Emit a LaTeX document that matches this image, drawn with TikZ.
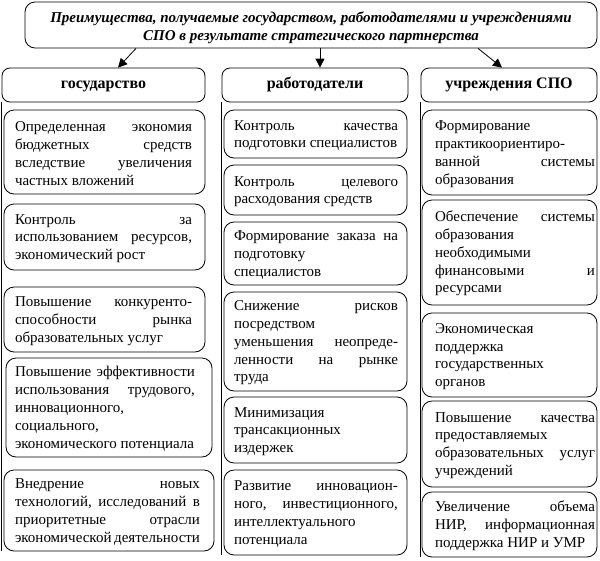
\documentclass[tikz,border=0pt]{standalone}
\usepackage{fontspec}
\setmainfont{Liberation Serif}
\usetikzlibrary{arrows.meta}
\newcommand{\bodyfont}{\fontsize{15}{17.8}\selectfont}
% left gap, text width, right gap, lines
\newcommand{\bt}[4]{\hspace*{#1pt}\begin{minipage}{#2pt}\bodyfont\hyphenpenalty=10000\parindent=0pt\rule{0pt}{13pt}#4\end{minipage}\hspace*{#3pt}}
\begin{document}
\begin{tikzpicture}[x=1pt,y=-1pt,line width=0.8pt,
  box/.style={draw, rounded corners=10pt, inner sep=0pt},
  head/.style={draw, rounded corners=8pt, inner sep=0pt, align=center, text height=10pt, text depth=3pt, font=\fontsize{16}{18}\selectfont\bfseries},
  arr/.style={-{Triangle[length=9pt,width=9pt]}}]
\useasboundingbox (0,0) rectangle (600,560);

% title
\node[draw, rounded corners=10pt, inner sep=0pt, minimum width=572pt, minimum height=46pt, align=center,
  font=\fontsize{15}{18}\selectfont\bfseries\itshape] (title) at (311,25)
  {\rule{0pt}{17pt}Преимущества, получаемые государством, работодателями и учреждениями\\СПО в результате стратегического партнерства};

% headers
\node[head, minimum width=203pt, minimum height=34pt] (hg) at (103.5,85) {государство};
\node[head, minimum width=186pt, minimum height=34pt] (hr) at (315,85) {работодатели};
\node[head, minimum width=176pt, minimum height=34pt] (hu) at (509,85) {учреждения СПО};

\draw[arr] ([xshift=-175pt]title.south) -- ([xshift=14.5pt]hg.north);
\draw[arr] ([xshift=9pt]title.south) -- ([xshift=5pt]hr.north);
\draw[arr] ([xshift=167pt]title.south) -- ([xshift=-7pt]hu.north);

% left column
\node[box, minimum height=84pt] (l1) at (104.5,152) {\bt{11}{177}{13}{Определенная\hfill экономия\\бюджетных\hfill средств\\вследствие\hfill увеличения\\частных вложений}};
\node[box, minimum height=66pt] (l2) at (104.5,237) {\bt{11}{177}{13}{Контроль\hfill за\\использованием\hfill ресурсов,\\экономический рост}};
\node[box, minimum height=65pt] (l3) at (104.5,319.5) {\bt{11}{177}{13}{Повышение\hfill конкуренто-\\способности\hfill рынка\\образовательных услуг}};
\node[box, minimum height=99pt] (l4) at (109,407.5) {\bt{9}{180}{17}{Повышение\hfill эффективности\\использования\hfill трудового,\\инновационного,\\социального,\\экономического потенциала}};
\node[box, minimum height=81pt] (l5) at (109,510.5) {\bt{11}{185}{14}{Внедрение\hfill новых\\технологий,\hfill исследований\hfill в\\приоритетные\hfill отрасли\\экономической деятельности}};

% middle column
\node[box, minimum height=48pt] (m1) at (315.5,134) {\bt{10}{164}{9}{Контроль\hfill качества\\подготовки специалистов}};
\node[box, minimum height=50pt] (m2) at (315.5,190) {\bt{10}{164}{9}{Контроль\hfill целевого\\расходования средств}};
\node[box, minimum height=63pt] (m3) at (315.5,253.5) {\bt{10}{164}{9}{Формирование\hfill заказа\hfill на\\подготовку\\специалистов}};
\node[box, minimum height=99pt] (m4) at (315.5,341.5) {\bt{10}{164}{9}{Снижение\hfill рисков\\посредством\\уменьшения\hfill неопреде-\\ленности\hfill на\hfill рынке\\труда}};
\node[box, minimum height=66pt] (m5) at (315.5,430) {\bt{10}{164}{9}{Минимизация\\трансакционных\\издержек}};
\node[box, minimum height=85pt] (m6) at (315.5,512.5) {\bt{10}{164}{9}{Развитие\hfill инновацион-\\ного,\hfill инвестиционного,\\интеллектуального\\потенциала}};

% right column
\node[box, minimum height=85pt] (r1) at (509.5,152.5) {\bt{13}{160}{2}{Формирование\\практикоориентиро-\\ванной\hfill системы\\образования}};
\node[box, minimum height=105pt] (r2) at (509.5,252.5) {\bt{13}{160}{2}{Обеспечение\hfill системы\\образования\\необходимыми\\финансовыми\hfill и\\ресурсами}};
\node[box, minimum height=84pt] (r3) at (509.5,355) {\bt{13}{160}{2}{Экономическая\\поддержка\\государственных\\органов}};
\node[box, minimum height=86pt] (r4) at (509.5,444) {\bt{13}{160}{2}{Повышение\hfill качества\\предоставляемых\\образовательных\hfill услуг\\учреждений}};
\node[box, minimum height=65pt] (r5) at (509.5,524.5) {\bt{13}{160}{2}{Увеличение\hfill объема\\НИР,\hfill информационная\\поддержка НИР и УМР}};

% vertical lines
\draw (hg.south west) -- (hg.south west |- l5.south);
\draw (hr.south west) -- (hr.south west |- m6.south);
\draw (hu.south west) -- (hu.south west |- r5.south);
\end{tikzpicture}
\end{document}
